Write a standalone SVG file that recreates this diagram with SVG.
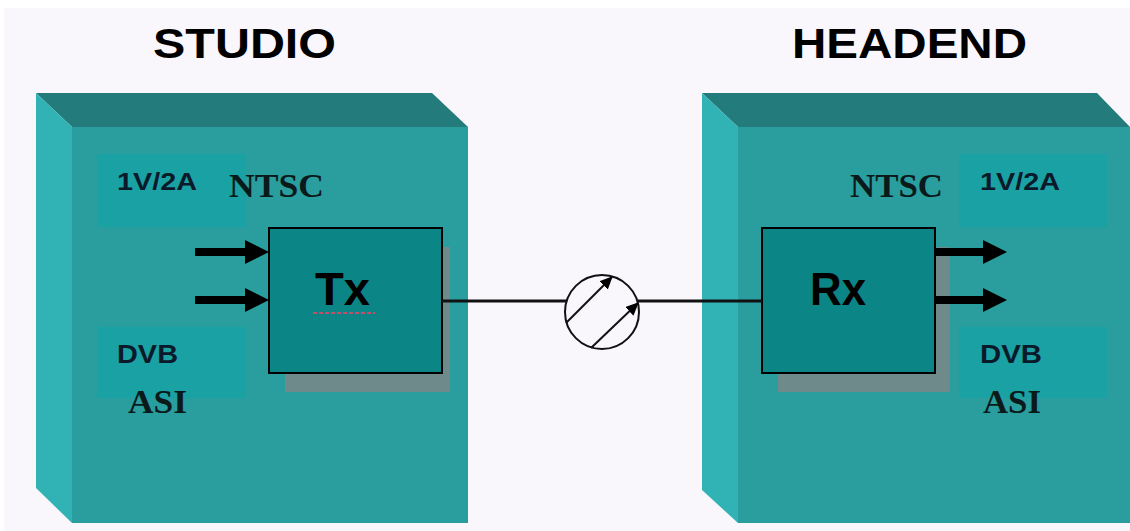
<svg xmlns="http://www.w3.org/2000/svg" width="1130" height="531" viewBox="0 0 1130 531">
<defs>
<style>
.front{fill:#2a9d9f}
.top{fill:#237b7c}
.side{fill:#31b3b6}
.inner{fill:#16a2a5;opacity:0.8}
.shadow{fill:#6e8a8a}
.blk{fill:#0b8585;stroke:#000;stroke-width:2}
.title{font-family:"Liberation Sans",Arial,sans-serif;font-weight:bold;font-size:42px;fill:#000}
.sans{font-family:"Liberation Sans",Arial,sans-serif;font-weight:bold;fill:#0a1a2a}
.serif{font-family:"Liberation Serif","Times New Roman",serif;font-weight:bold;fill:#0a1a1a}
.conn{stroke:#111;stroke-width:3;fill:none}
</style>
<marker id="ah" markerWidth="13" markerHeight="12" refX="12" refY="6" orient="auto" markerUnits="userSpaceOnUse" viewBox="0 0 13 12"><path d="M0,0 L13,6 L0,12 z" fill="#000"/></marker>
</defs>
<rect x="0" y="0" width="1130" height="531" fill="#ffffff"/>
<rect x="4" y="8" width="1126" height="523" fill="#f9f6fc"/>

<g id="title-studio"><text class="title" x="153" y="58" textLength="183" lengthAdjust="spacingAndGlyphs">STUDIO</text></g>
<g id="title-headend"><text class="title" x="792" y="58" textLength="235" lengthAdjust="spacingAndGlyphs">HEADEND</text></g>

<g id="studio">
<polygon class="top" points="36,93 432,93 468,127 72,127"/>
<polygon class="side" points="36,93 72,127 72,523 36,488"/>
<rect class="front" x="72" y="127" width="396" height="396"/>
<rect class="inner" x="97" y="154" width="149" height="73"/>
<rect class="inner" x="97" y="327" width="149" height="71"/>
<text class="sans" x="117" y="190" font-size="23" textLength="80" lengthAdjust="spacingAndGlyphs">1V/2A</text>
<text class="serif" x="229" y="197" font-size="33" textLength="95" lengthAdjust="spacingAndGlyphs">NTSC</text>
<text class="sans" x="117" y="363" font-size="26" textLength="61" lengthAdjust="spacingAndGlyphs">DVB</text>
<text class="serif" x="128" y="413" font-size="34" textLength="59" lengthAdjust="spacingAndGlyphs">ASI</text>
</g>

<g id="tx">
<rect class="shadow" x="285" y="247" width="165" height="145"/>
<rect class="blk" x="269" y="228" width="173" height="145"/>
<text class="sans" x="315" y="305" font-size="46" style="fill:#000" textLength="55" lengthAdjust="spacingAndGlyphs">Tx</text>
<line x1="313" y1="313" x2="375" y2="313" stroke="#c0506a" stroke-width="2" stroke-dasharray="4,2"/>
</g>

<g id="headend">
<polygon class="top" points="702,93 1097,93 1130,127 738,127"/>
<polygon class="side" points="702,93 738,127 738,523 702,490"/>
<rect class="front" x="738" y="127" width="392" height="396"/>
<rect class="inner" x="959" y="154" width="148" height="73"/>
<rect class="inner" x="959" y="327" width="148" height="71"/>
<text class="serif" x="850" y="197" font-size="33" textLength="93" lengthAdjust="spacingAndGlyphs">NTSC</text>
<text class="sans" x="980" y="190" font-size="23" textLength="80" lengthAdjust="spacingAndGlyphs">1V/2A</text>
<text class="sans" x="980" y="363" font-size="26" textLength="62" lengthAdjust="spacingAndGlyphs">DVB</text>
<text class="serif" x="983" y="413" font-size="34" textLength="58" lengthAdjust="spacingAndGlyphs">ASI</text>
</g>

<g id="rx">
<rect class="shadow" x="778" y="247" width="172" height="145"/>
<rect class="blk" x="762" y="228" width="173" height="145"/>
<text class="sans" x="810" y="305" font-size="46" style="fill:#000" textLength="56" lengthAdjust="spacingAndGlyphs">Rx</text>
</g>

<g id="link">
<circle cx="602" cy="312" r="37" fill="none" stroke="#111" stroke-width="2"/>
<line x1="566" y1="323" x2="612" y2="277" stroke="#111" stroke-width="2" marker-end="url(#ah)"/>
<line x1="591" y1="348" x2="638" y2="303" stroke="#111" stroke-width="2" marker-end="url(#ah)"/>
</g>

<g id="connectors">
<line class="conn" x1="442" y1="301" x2="566" y2="301"/>
<line class="conn" x1="638" y1="301" x2="762" y2="301"/>
<g fill="#000">
<rect x="195" y="248" width="52" height="8"/>
<polygon points="245,240 269,252 245,264"/>
<rect x="195" y="296" width="52" height="8"/>
<polygon points="245,288 269,300 245,312"/>
<rect x="935" y="248" width="50" height="8"/>
<polygon points="983,240 1007,252 983,264"/>
<rect x="935" y="296" width="50" height="8"/>
<polygon points="983,288 1007,300 983,312"/>
</g>
</g>
</svg>
